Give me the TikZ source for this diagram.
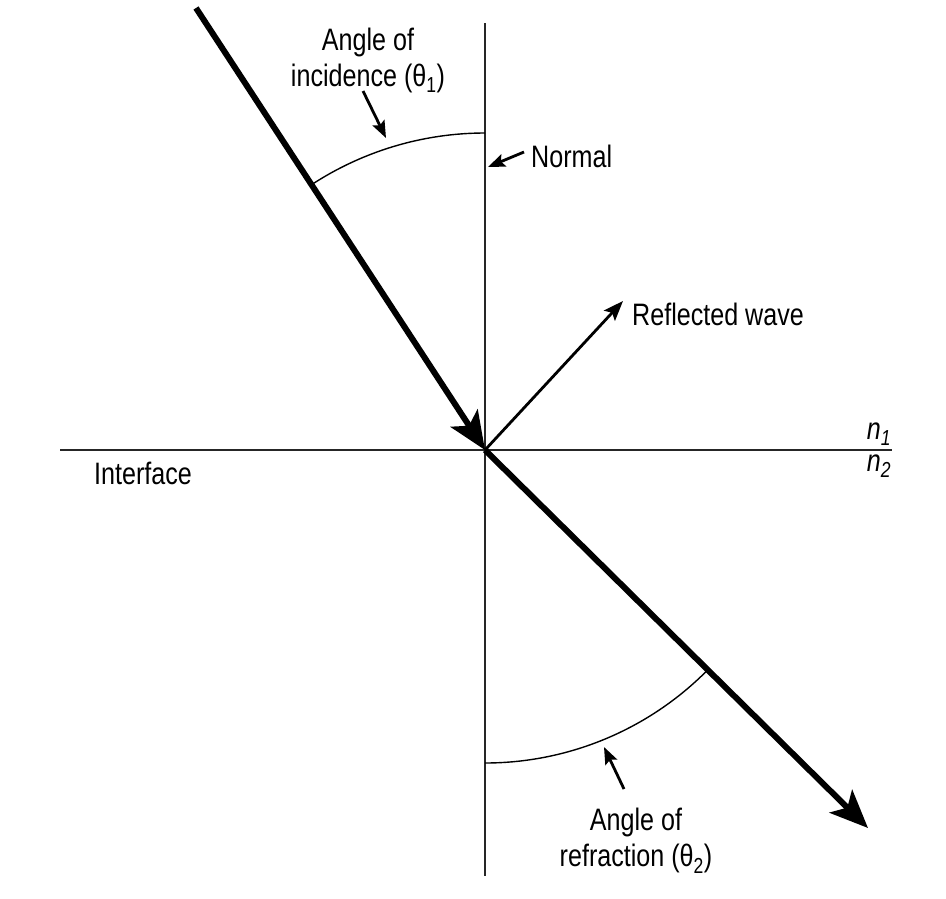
\documentclass[tikz,border=0pt]{standalone}
\usepackage{fontspec}
\setmainfont{Liberation Sans}[FakeStretch=0.81]
\usetikzlibrary{arrows.meta}
\tikzset{
  axis/.style={line width=2.3pt, draw=black!85},
  ray/.style={line width=6pt, -{Stealth[length=38pt,width=32pt,inset=9pt]}},
  thinray/.style={line width=2.8pt, -{Stealth[length=20pt,width=15pt,inset=4pt]}},
  anglearc/.style={line width=1.4pt},
  lblarrow/.style={line width=2.8pt, -{Stealth[length=17pt,width=13pt,inset=3pt]}},
  lbl/.style={font=\fontsize{31}{36}\selectfont, inner sep=0pt, align=center},
}
\begin{document}
\begin{tikzpicture}[x=1pt,y=-1pt]
\useasboundingbox (0,0) rectangle (946,898);
% key points
\coordinate (O) at (485,450);
\coordinate (ntop) at (485,23);
\coordinate (nbot) at (485,876);
\coordinate (ileft) at (60,450);
\coordinate (iright) at (892,450);
\coordinate (inc) at (196,8);
\coordinate (refr) at (868,828);
\coordinate (refl) at (623,301);
% axes
\draw[axis] (ntop) -- (nbot);
\draw[axis] (ileft) -- (iright);
% angle arcs
\draw[anglearc] (O) ++(270:317) arc[start angle=270,end angle=236.8,radius=317];
\draw[anglearc] (O) ++(90:313) arc[start angle=90,end angle=44.6,radius=313];
% rays
\draw[ray] (inc) -- (O);
\draw[ray] (O) -- (refr);
\draw[thinray] (O) -- (refl);
% labels
\node[lbl] (ainc) at (368,60) {Angle of\\incidence (θ\textsubscript{1})};
\coordinate (ainc1) at (363,91);
\coordinate (ainc2) at (386,138);
\draw[lblarrow] (ainc1) -- (ainc2);
\node[lbl, anchor=west] (normal) at (531,156) {Normal};
\coordinate (nor1) at (524,152);
\coordinate (nor2) at (488,167);
\draw[lblarrow] (nor1) -- (nor2);
\node[lbl, anchor=west] (reflw) at (632,314) {Reflected wave};
\node[lbl, anchor=west] (iface) at (94,473) {Interface};
\node[lbl] (n1) at (879,434) {\itshape n\textsubscript{1}};
\node[lbl] (n2) at (879,466) {\itshape n\textsubscript{2}};
\node[lbl] (arefr) at (636,841) {Angle of\\refraction (θ\textsubscript{2})};
\coordinate (ar1) at (624,789);
\coordinate (ar2) at (604,747);
\draw[lblarrow] (ar1) -- (ar2);
\end{tikzpicture}
\end{document}
